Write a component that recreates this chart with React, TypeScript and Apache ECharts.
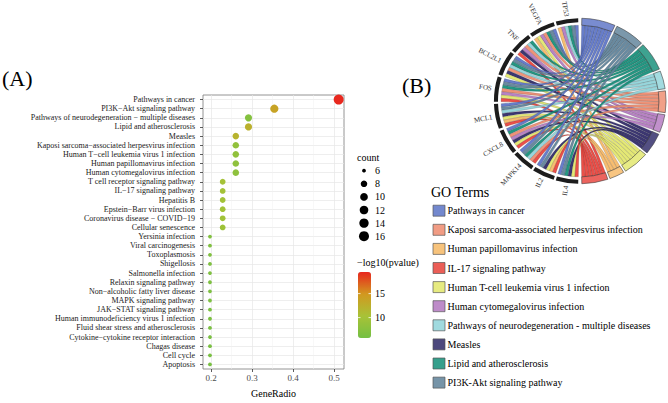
import React, { useEffect, useRef } from "react";
import * as echarts from "echarts";

const SERIF = "Liberation Serif, serif";
const M = "\u2212";

// ---------------- Panel A data ----------------
const pathwayNames: string[] = [
  "Pathways in cancer",
  `PI3K${M}Akt signaling pathway`,
  `Pathways of neurodegeneration ${M} multiple diseases`,
  "Lipid and atherosclerosis",
  "Measles",
  `Kaposi sarcoma${M}associated herpesvirus infection`,
  `Human T${M}cell leukemia virus 1 infection`,
  "Human papillomavirus infection",
  "Human cytomegalovirus infection",
  "T cell receptor signaling pathway",
  `IL${M}17 signaling pathway`,
  "Hepatitis B",
  `Epstein${M}Barr virus infection`,
  `Coronavirus disease ${M} COVID${M}19`,
  "Cellular senescence",
  "Yersinia infection",
  "Viral carcinogenesis",
  "Toxoplasmosis",
  "Shigellosis",
  "Salmonella infection",
  "Relaxin signaling pathway",
  `Non${M}alcoholic fatty liver disease`,
  "MAPK signaling pathway",
  `JAK${M}STAT signaling pathway`,
  "Human immunodeficiency virus 1 infection",
  "Fluid shear stress and atherosclerosis",
  `Cytokine${M}cytokine receptor interaction`,
  "Chagas disease",
  "Cell cycle",
  "Apoptosis",
];
const geneRatios: number[] = [
  0.511, 0.354, 0.291, 0.291, 0.26, 0.26, 0.26, 0.26, 0.26, 0.228,
  0.228, 0.228, 0.228, 0.228, 0.228, 0.197, 0.197, 0.197, 0.197, 0.197,
  0.197, 0.197, 0.197, 0.197, 0.197, 0.197, 0.197, 0.197, 0.197, 0.197,
];
const geneCounts: number[] = [
  16, 11, 9, 9, 8, 8, 8, 8, 8, 7,
  7, 7, 7, 7, 7, 6, 6, 6, 6, 6,
  6, 6, 6, 6, 6, 6, 6, 6, 6, 6,
];
const negLog10P: number[] = [
  19.4, 13.7, 7.2, 12.3, 12.0, 8.4, 8.3, 8.1, 8.0, 10.1,
  10.0, 9.9, 9.8, 9.6, 9.4, 6.9, 6.8, 6.8, 6.7, 6.7,
  6.6, 6.5, 6.5, 6.4, 6.4, 6.3, 6.3, 6.2, 6.2, 6.1,
];
const ratioTicks: number[] = [0.2, 0.3, 0.4, 0.5];
const ratioMinorTicks: number[] = [0.25, 0.35, 0.45];
const countBreaks: number[] = [6, 8, 10, 12, 14, 16];
const pvalueBreaks: number[] = [10, 15];
const pvalueRange: number[] = [5.75, 19.5];
const pvalueColors: string[] = ["#74C043", "#A8C237", "#D2981F", "#E8261E"];

// ---------------- Panel B data ----------------
const goTerms: string[] = [
  "Pathways in cancer",
  "Kaposi sarcoma-associated herpesvirus infection",
  "Human papillomavirus infection",
  "IL-17 signaling pathway",
  "Human T-cell leukemia virus 1 infection",
  "Human cytomegalovirus infection",
  "Pathways of neurodegeneration - multiple diseases",
  "Measles",
  "Lipid and atherosclerosis",
  "PI3K-Akt signaling pathway",
];
const goColors: string[] = [
  "#5B73C6", "#EE8B6E", "#F6B865", "#E8423A", "#E2E66A",
  "#B378C0", "#8FD3D9", "#2D2866", "#138E78", "#5E8199",
];
// term order around the circle (clockwise from top), indices into goTerms
const chordTermOrder: number[] = [0, 9, 8, 6, 1, 5, 7, 4, 2, 3];
const chordGenes: string[] = ["TP53", "VEGFA", "TNF", "BCL2L1", "FOS", "MCL1", "CXCL8", "MAPK14", "IL2", "IL4"];
// rows: chordGenes; columns: chordTermOrder
const geneTermLinks: number[][] = [
  [1, 1, 1, 1, 0, 1, 0, 0, 1, 0],
  [1, 1, 1, 0, 1, 1, 0, 1, 1, 0],
  [0, 0, 1, 1, 1, 1, 1, 0, 0, 1],
  [1, 1, 1, 1, 1, 0, 1, 1, 0, 0],
  [1, 1, 1, 0, 1, 1, 0, 1, 0, 1],
  [1, 1, 0, 1, 0, 0, 1, 1, 1, 1],
  [1, 0, 1, 0, 1, 1, 1, 1, 0, 1],
  [1, 1, 1, 1, 1, 0, 0, 0, 0, 1],
  [1, 1, 0, 0, 0, 0, 1, 1, 1, 1],
  [1, 1, 1, 0, 0, 0, 1, 1, 0, 1],
];

// ---------------- helpers ----------------
const sizeOf = (c: number) => {
  const lo = countBreaks[0];
  const hi = countBreaks[countBreaks.length - 1];
  return 3.8 + 6.2 * Math.sqrt(Math.max(0, c - lo) / (hi - lo));
};

const CX = 580, CY = 101, R_OUT = 84, R_TERM_IN = 77, R_GENE_IN = 80, R_RIB = 77, R_LABEL = 87;
const SX = 1.025, SY = 0.985;
const SIDE_GAP = 1.2, SEG_GAP = 1.5;

const P = (deg: number, r: number) => {
  const t = (deg * Math.PI) / 180;
  return [CX + r * Math.sin(t), CY - r * Math.cos(t)];
};
const PE = (deg: number, r: number) => {
  const t = (deg * Math.PI) / 180;
  return [CX + r * SX * Math.sin(t), CY - r * SY * Math.cos(t)];
};
const zr = (deg: number) => ((deg - 90) * Math.PI) / 180;
const f = (n: number) => n.toFixed(2);

function buildChordItems() {
  const nT = chordTermOrder.length;
  const nG = chordGenes.length;
  const termTotals = chordTermOrder.map((_, j) => geneTermLinks.reduce((s, row) => s + row[j], 0));
  const geneTotals = geneTermLinks.map((row) => row.reduce((s, v) => s + v, 0));
  const nLinks = termTotals.reduce((a, b) => a + b, 0);
  const unitT = (180 - 2 * SIDE_GAP - (nT - 1) * SEG_GAP) / nLinks;
  const unitG = (180 - 2 * SIDE_GAP - (nG - 1) * SEG_GAP) / nLinks;
  const termStart: number[] = [];
  let acc = SIDE_GAP;
  termTotals.forEach((n, j) => {
    termStart[j] = acc;
    acc += n * unitT + SEG_GAP;
  });
  const geneStart: number[] = [];
  acc = 180 + SIDE_GAP;
  for (let g = nG - 1; g >= 0; g--) {
    geneStart[g] = acc;
    acc += geneTotals[g] * unitG + SEG_GAP;
  }
  const items: any[] = [];
  // ribbons
  for (let g = 0; g < nG; g++) {
    for (let j = 0; j < nT; j++) {
      if (!geneTermLinks[g][j]) continue;
      let tk = 0;
      for (let gg = 0; gg < g; gg++) tk += geneTermLinks[gg][j];
      let gk = 0;
      for (let jj = nT - 1; jj > j; jj--) gk += geneTermLinks[g][jj];
      const t0 = termStart[j] + tk * unitT, t1 = t0 + unitT;
      const g0 = geneStart[g] + gk * unitG, g1 = g0 + unitG;
      const a = P(g0, R_RIB), b = P(g1, R_RIB), c = P(t0, R_RIB), d = P(t1, R_RIB);
      const path =
        `M${f(a[0])} ${f(a[1])} A${R_RIB} ${R_RIB} 0 0 1 ${f(b[0])} ${f(b[1])} ` +
        `Q${CX} ${CY} ${f(c[0])} ${f(c[1])} A${R_RIB} ${R_RIB} 0 0 1 ${f(d[0])} ${f(d[1])} ` +
        `Q${CX} ${CY} ${f(a[0])} ${f(a[1])} Z`;
      items.push({ kind: "ribbon", d: path, color: goColors[chordTermOrder[j]] });
    }
  }
  // term arcs
  termTotals.forEach((n, j) => {
    items.push({
      kind: "arc", r0: R_TERM_IN, r: R_OUT, s: termStart[j], e: termStart[j] + n * unitT,
      color: goColors[chordTermOrder[j]], term: true,
    });
  });
  // gene arcs and labels
  for (let g = 0; g < nG; g++) {
    const s = geneStart[g], e = s + geneTotals[g] * unitG;
    items.push({ kind: "arc", r0: R_GENE_IN, r: R_OUT, s, e, color: "#1c1c1c", term: false });
    const mid = (s + e) / 2;
    const t = (mid * Math.PI) / 180;
    const dx = -Math.sin(t), dy = Math.cos(t);
    const theta = Math.atan2(dy, dx);
    const p = PE(mid, R_LABEL);
    items.push({ kind: "label", x: p[0], y: p[1], rotation: -theta, text: chordGenes[g] });
  }
  return items;
}

function buildOption() {
  const chordItems = buildChordItems();

  const gridLines: any[] = [
    ...pathwayNames.map((_, i) => ({ yAxis: i, lineStyle: { color: "#e6e6e6", width: 0.7, type: "solid" } })),
    ...ratioTicks.map((v) => ({ xAxis: v, lineStyle: { color: "#e6e6e6", width: 0.7, type: "solid" } })),
    ...ratioMinorTicks.map((v) => ({ xAxis: v, lineStyle: { color: "#f0f0f0", width: 0.5, type: "solid" } })),
  ];

  const vmTop = 272, vmH = 66, vmLeft = 358, vmW = 13;
  const vmY = (v: number) => vmTop + ((pvalueRange[1] - v) / (pvalueRange[1] - pvalueRange[0])) * vmH;

  const txt = (text: string, x: number, y: number, size: number, extra: any = {}) => ({
    type: "text",
    x,
    y,
    silent: true,
    style: {
      text,
      fontSize: size,
      fontFamily: SERIF,
      fill: extra.fill || "#000",
      textAlign: extra.align || "left",
      align: extra.align || "left",
      textVerticalAlign: "middle",
      verticalAlign: "middle",
    },
  });

  const graphics: any[] = [];
  graphics.push(txt("(A)", 2, 78, 22));
  graphics.push(txt("(B)", 402, 85, 22));
  // count legend
  graphics.push(txt("count", 357, 157, 10));
  countBreaks.forEach((c, i) => {
    const y = 170.7 + i * 13.1;
    graphics.push({ type: "circle", silent: true, shape: { cx: 364, cy: y, r: sizeOf(c) / 2 }, style: { fill: "#000" } });
    graphics.push(txt(String(c), 375, y, 10));
  });
  // colour bar legend
  graphics.push(txt(`${M}log10(pvalue)`, 357, 262, 10));
  pvalueBreaks.forEach((v) => {
    const y = vmY(v);
    graphics.push(txt(String(v), 375, y, 10));
    graphics.push({ type: "line", silent: true, z: 100, shape: { x1: vmLeft, y1: y, x2: vmLeft + 2.5, y2: y }, style: { stroke: "#fff", lineWidth: 0.8 } });
    graphics.push({ type: "line", silent: true, z: 100, shape: { x1: vmLeft + vmW - 2.5, y1: y, x2: vmLeft + vmW, y2: y }, style: { stroke: "#fff", lineWidth: 0.8 } });
  });
  // GO legend
  graphics.push(txt("GO Terms", 431, 192, 14));
  goTerms.forEach((t, i) => {
    const y = 210.7 + i * 19.1;
    graphics.push({
      type: "rect",
      silent: true,
      shape: { x: 433, y: y - 5.5, width: 12, height: 11 },
      style: { fill: goColors[i], opacity: 0.85, stroke: "#555", lineWidth: 0.8 },
    });
    graphics.push(txt(t, 447.5, y, 10));
  });

  const tf = { originX: CX, originY: CY, scaleX: SX, scaleY: SY };

  return {
    animation: false,
    backgroundColor: "#ffffff",
    textStyle: { fontFamily: SERIF },
    grid: {
      left: 203,
      top: 95,
      width: 141,
      height: 282,
      show: true,
      borderColor: "#7a7a7a",
      borderWidth: 0.8,
      backgroundColor: "transparent",
    },
    xAxis: {
      type: "value",
      min: 0.18,
      max: 0.524,
      axisLine: { show: false },
      axisTick: { show: true, length: 3, customValues: ratioTicks, lineStyle: { color: "#333", width: 0.8 } },
      axisLabel: { customValues: ratioTicks, fontSize: 9, color: "#4d4d4d", margin: 4, fontFamily: SERIF },
      splitLine: { show: false },
      name: "GeneRadio",
      nameLocation: "middle",
      nameGap: 19,
      nameTextStyle: { fontSize: 10, color: "#000", fontFamily: SERIF },
    },
    yAxis: {
      type: "category",
      inverse: true,
      data: pathwayNames,
      axisLine: { show: false },
      axisTick: { show: true, alignWithLabel: true, interval: 0, length: 3, lineStyle: { color: "#333", width: 0.8 } },
      axisLabel: { interval: 0, fontSize: 8, color: "#1a1a1a", margin: 8, fontFamily: SERIF },
      splitLine: { show: false },
    },
    visualMap: [
      {
        type: "continuous",
        seriesIndex: 0,
        dimension: 3,
        min: pvalueRange[0],
        max: pvalueRange[1],
        inRange: { color: pvalueColors },
        left: vmLeft,
        top: vmTop,
        itemWidth: vmW,
        itemHeight: vmH,
        padding: 0,
        calculable: false,
        hoverLink: false,
        orient: "vertical",
      },
    ],
    series: [
      {
        type: "scatter",
        z: 3,
        data: pathwayNames.map((n, i) => [geneRatios[i], i, geneCounts[i], negLog10P[i]]),
        encode: { x: 0, y: 1 },
        symbolSize: (v: number[]) => sizeOf(v[2]),
        itemStyle: { opacity: 1 },
        markLine: {
          silent: true,
          z: 1,
          symbol: "none",
          label: { show: false },
          animation: false,
          data: gridLines,
        },
      },
      {
        type: "custom",
        coordinateSystem: "none",
        silent: true,
        z: 2,
        data: chordItems.map((_, i) => [i]),
        renderItem: (params: any) => {
          const it = chordItems[params.dataIndex];
          if (it.kind === "ribbon") {
            return {
              type: "path",
              ...tf,
              shape: { pathData: it.d },
              style: { fill: it.color, stroke: "rgba(50,50,50,0.55)", lineWidth: 0.35, opacity: 0.93 },
            };
          }
          if (it.kind === "arc") {
            return {
              type: "sector",
              ...tf,
              shape: { cx: CX, cy: CY, r0: it.r0, r: it.r, startAngle: zr(it.s), endAngle: zr(it.e), clockwise: true },
              style: it.term
                ? { fill: it.color, opacity: 0.82, stroke: "#3a3a3a", lineWidth: 0.7 }
                : { fill: it.color },
            };
          }
          return {
            type: "text",
            x: it.x,
            y: it.y,
            rotation: it.rotation,
            style: {
              text: it.text,
              fontSize: 7,
              fontFamily: SERIF,
              fill: "#333",
              textAlign: "right",
              align: "right",
              textVerticalAlign: "middle",
              verticalAlign: "middle",
            },
          };
        },
      },
    ],
    graphic: { elements: graphics },
  };
}

export default function App() {
  const ref = useRef<HTMLDivElement>(null);
  useEffect(() => {
    if (!ref.current) return;
    const chart = echarts.init(ref.current, null, { renderer: "svg" });
    chart.setOption(buildOption() as any);
    return () => chart.dispose();
  }, []);
  return (
    <div
      ref={ref}
      style={{ position: "absolute", left: 0, top: 0, width: 668, height: 403, background: "#fff" }}
    />
  );
}
